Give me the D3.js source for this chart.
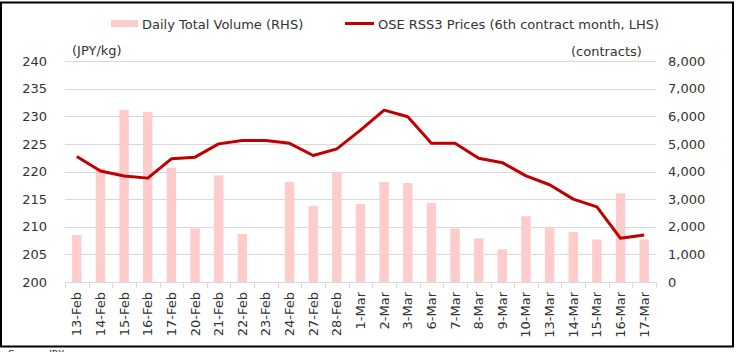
<!DOCTYPE html>
<html><head><meta charset="utf-8">
<script src="https://cdn.jsdelivr.net/npm/d3@7/dist/d3.min.js"></script>
<style>html,body{margin:0;padding:0;background:#fff;} svg{display:block;}</style>
</head><body>
<svg id="c" width="736" height="352"></svg>
<script>
const dates = ["13-Feb","14-Feb","15-Feb","16-Feb","17-Feb","20-Feb","21-Feb","22-Feb","23-Feb","24-Feb","27-Feb","28-Feb","1-Mar","2-Mar","3-Mar","6-Mar","7-Mar","8-Mar","9-Mar","10-Mar","13-Mar","14-Mar","15-Mar","16-Mar","17-Mar"];
const prices = [222.7,220.1,219.2,218.8,222.3,222.6,225.0,225.6,225.6,225.1,222.9,224.1,227.5,231.1,229.9,225.1,225.1,222.4,221.6,219.2,217.6,215.0,213.6,207.9,208.5];
const volumes = [1700,4110,6230,6150,4140,1940,3860,1740,0,3620,2750,3950,2820,3620,3580,2860,1940,1580,1180,2380,1990,1810,1540,3210,1540];
const leftTicks = [200,205,210,215,220,225,230,235,240];
const rightTicks = [0,1000,2000,3000,4000,5000,6000,7000,8000];

const svg = d3.select("#c");
const FONT = "DejaVu Sans";
const pL = 65, pR = 656, pT = 61, pB = 282;

const x = d3.scaleBand().domain(dates).range([pL, pR]).paddingInner(0.6).paddingOuter(0.3);
const yL = d3.scaleLinear().domain([200, 240]).range([pB, pT]);
const yR = d3.scaleLinear().domain([0, 8000]).range([pB, pT]);

// frame
svg.append("rect").attr("x",1).attr("y",2.5).attr("width",732).attr("height",344)
  .attr("fill","none").attr("stroke","#000").attr("stroke-width",2);

// gridlines
svg.append("g").selectAll("line").data(leftTicks.slice(1)).join("line")
  .attr("x1",pL).attr("x2",pR)
  .attr("y1",d=>Math.round(yL(d))+0.5).attr("y2",d=>Math.round(yL(d))+0.5)
  .attr("stroke","#d9d9d9").attr("stroke-width",1);

// bars
svg.append("g").selectAll("rect").data(volumes).join("rect")
  .attr("x",(d,i)=>x(dates[i])).attr("width",x.bandwidth())
  .attr("y",d=>yR(d)).attr("height",d=>pB-yR(d))
  .attr("fill","#ffcccc");

// x axis line and ticks
const step = x.step();
svg.append("line").attr("x1",pL).attr("x2",pR).attr("y1",pB+0.5).attr("y2",pB+0.5)
  .attr("stroke","#d9d9d9");
svg.append("g").selectAll("line").data(d3.range(dates.length+1)).join("line")
  .attr("x1",i=>Math.round(pL+i*step)+0.5).attr("x2",i=>Math.round(pL+i*step)+0.5)
  .attr("y1",pB).attr("y2",pB+6).attr("stroke","#d9d9d9");

// line
const line = d3.line().x((d,i)=>x(dates[i])+x.bandwidth()/2).y(d=>yL(d));
svg.append("path").datum(prices).attr("d",line).attr("fill","none")
  .attr("stroke","#c00000").attr("stroke-width",3).attr("stroke-linejoin","round");

// left axis labels
svg.append("g").selectAll("text").data(leftTicks).join("text")
  .attr("x",47).attr("y",d=>yL(d)).attr("dy","0.36em").attr("text-anchor","end")
  .attr("font-family",FONT).attr("font-size",13).attr("fill","#333").text(d=>d);
// right axis labels
svg.append("g").selectAll("text").data(rightTicks).join("text")
  .attr("x",668).attr("y",d=>yR(d)).attr("dy","0.36em").attr("text-anchor","start")
  .attr("font-family",FONT).attr("font-size",13).attr("fill","#333").text(d=>d3.format(",")(d));

// x labels
svg.append("g").selectAll("text").data(dates).join("text")
  .attr("transform",d=>`translate(${x(d)+x.bandwidth()/2+4.5},292) rotate(-90)`)
  .attr("text-anchor","end")
  .attr("font-family",FONT).attr("font-size",13).attr("fill","#333").text(d=>d);

// axis unit labels
svg.append("text").attr("x",72).attr("y",55).attr("font-family",FONT).attr("font-size",13).attr("fill","#333").text("(JPY/kg)");
svg.append("text").attr("x",571).attr("y",56).attr("font-family",FONT).attr("font-size",13).attr("fill","#333").text("(contracts)");

// legend
svg.append("rect").attr("x",111).attr("y",20).attr("width",27).attr("height",7).attr("fill","#ffcccc");
svg.append("text").attr("x",142).attr("y",28.5).attr("font-family",FONT).attr("font-size",13).attr("fill","#333").text("Daily Total Volume (RHS)");
svg.append("line").attr("x1",345).attr("x2",374).attr("y1",23.5).attr("y2",23.5).attr("stroke","#c00000").attr("stroke-width",3);
svg.append("text").attr("x",378).attr("y",28.5).attr("font-family",FONT).attr("font-size",13).attr("fill","#333").text("OSE RSS3 Prices (6th contract month, LHS)");

// source (cut off)
svg.append("text").attr("x",8).attr("y",358).attr("font-family",FONT).attr("font-size",10).attr("fill","#333").text("Source: JPX");
</script>
</body></html>
